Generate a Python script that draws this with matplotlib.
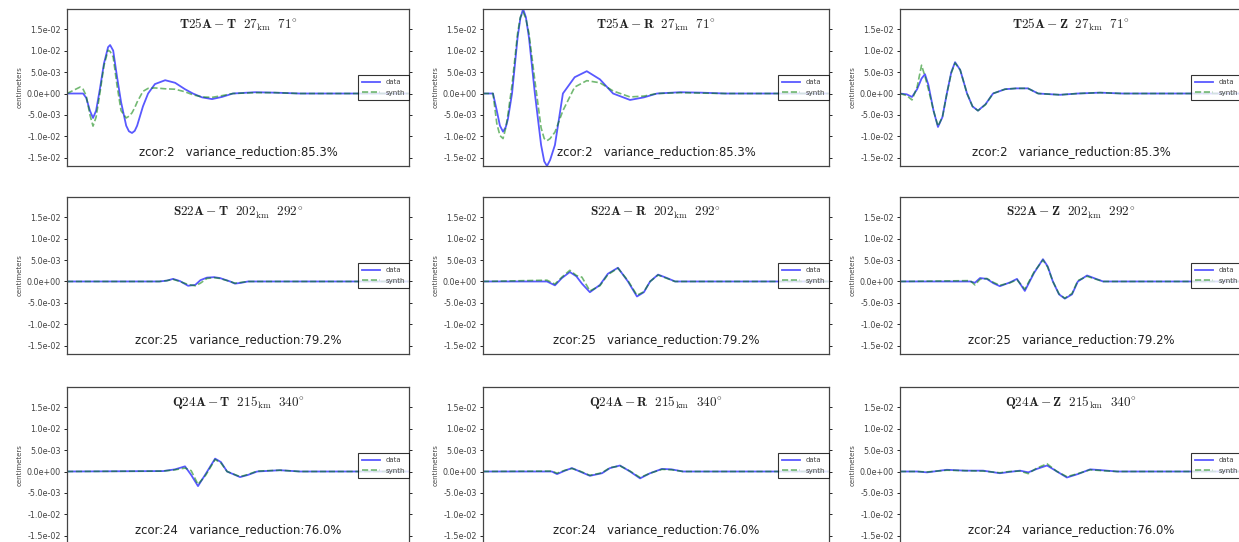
import matplotlib
matplotlib.use("Agg")
import matplotlib.pyplot as plt
from matplotlib.ticker import FormatStrFormatter

plt.rcParams["mathtext.fontset"] = "cm"

stations = ["T25A", "S22A", "Q24A"]
components = ["T", "R", "Z"]
distances = [27, 202, 215]  # km
azimuths = [71, 292, 340]  # degrees
zcors = [2, 25, 24]
var_reductions = [85.3, 79.2, 76.0]

# ---- T25A ----
t_T25A_T = [0, 3.8, 4.7, 5.6, 6.7, 7.6, 8.5, 9.6, 10.8, 12.0, 12.6, 13.5, 14.6, 15.8,
            17.3, 18.1, 19.0, 19.8, 20.5, 22.2, 23.7, 25.7, 28.7, 31.6, 34.5, 36.8,
            39.5, 42.4, 45.3, 48.5, 55.0, 60.8, 68.0, 100]
data_T25A_T = [0, 0, 0, -0.001, -0.004, -0.0057, -0.004, 0.001, 0.007, 0.0108, 0.0113,
               0.010, 0.004, -0.002, -0.0075, -0.0088, -0.0092, -0.0087, -0.0075,
               -0.003, 0.0, 0.0022, 0.0031, 0.0025, 0.0010, 0.0, -0.0009, -0.0013,
               -0.0008, 0.0, 0.0003, 0.0002, 0, 0]
synth_T25A_T = [0, 0.0015, 0.001, -0.0005, -0.005, -0.0076, -0.0055, 0.0, 0.0065,
                0.0101, 0.0098, 0.0085, 0.002, -0.004, -0.0057, -0.0053, -0.0045,
                -0.0033, -0.002, 0.0005, 0.0012, 0.0013, 0.0011, 0.0010, 0.0004,
                -0.0003, -0.0008, -0.0009, -0.0005, 0.0, 0.0002, 0.0002, 0, 0]

t_T25A_R = [0, 2.9, 4.0, 4.9, 5.8, 6.6, 7.2, 8.4, 10.0, 10.8, 11.6, 12.4, 13.3, 15.0,
            16.8, 17.7, 18.5, 19.4, 20.8, 23.1, 26.5, 30.0, 33.8, 37.6, 42.5, 46.5,
            50.3, 57.0, 63.0, 70.0, 100]
data_T25A_R = [0, 0, -0.004, -0.0075, -0.0089, -0.0078, -0.006, 0, 0.013, 0.0175,
               0.0197, 0.0178, 0.013, 0, -0.012, -0.0158, -0.0169, -0.0155, -0.012, 0,
               0.0038, 0.0052, 0.0033, 0, -0.0015, -0.0009, 0, 0.0003, 0.0002, 0, 0]
synth_T25A_R = [0, 0, -0.007, -0.0098, -0.0105, -0.008, -0.005, 0.002, 0.014, 0.0178,
                0.019, 0.0175, 0.014, 0.003, -0.008, -0.0105, -0.011, -0.0105, -0.009,
                -0.004, 0.0015, 0.0030, 0.0025, 0.0006, -0.0008, -0.0006, 0, 0.0002,
                0.0001, 0, 0]

t_T25A_Z = [0, 2.0, 3.5, 5.0, 6.3, 7.3, 8.3, 9.8, 11.1, 12.4, 13.7, 15.0, 16.1, 17.6,
            19.6, 21.2, 22.8, 25.0, 27.2, 30.7, 34.0, 37.4, 40.4, 46.8, 52.0, 58.5,
            65.0, 100]
data_T25A_Z = [0, -0.0002, -0.0008, 0.001, 0.0035, 0.0045, 0.002, -0.004, -0.0078,
               -0.0055, 0.0, 0.005, 0.0073, 0.0055, 0.0, -0.003, -0.0040, -0.0025, 0.0,
               0.001, 0.0012, 0.0012, 0.0, -0.0003, 0, 0.0002, 0, 0]
synth_T25A_Z = [0, -0.0005, -0.0015, 0.0015, 0.0066, 0.004, 0.001, -0.004, -0.0076,
                -0.0055, 0.0, 0.0048, 0.0071, 0.0055, 0.0, -0.003, -0.0040, -0.0026,
                0.0, 0.0010, 0.0012, 0.0012, 0.0, -0.0003, 0, 0.0002, 0, 0]

# ---- S22A ----
t_S22A_T = [0, 27.0, 29.2, 31.0, 33.0, 35.4, 37.5, 39.0, 40.9, 43.0, 44.7, 47.7, 49.1,
            51.0, 52.9, 100]
data_S22A_T = [0, 0, 0.0002, 0.0006, 0.0001, -0.001, -0.0008, 0.0003, 0.0009, 0.001,
               0.0008, 0.0, -0.0005, -0.0003, 0, 0]
synth_S22A_T = [0, 0, 0.0002, 0.0005, 0.0, -0.0007, -0.001, -0.0004, 0.0007, 0.0009,
                0.0007, 0.0, -0.0004, -0.0002, 0, 0]

t_S22A_R = [0, 18.5, 20.8, 22.8, 25.1, 27.0, 28.6, 30.9, 33.8, 36.1, 39.0, 41.9, 44.5,
            46.5, 48.3, 50.6, 53.2, 55.5, 100]
data_S22A_R = [0, 0, -0.0009, 0.0008, 0.0022, 0.0012, -0.0005, -0.0025, -0.0008, 0.0018,
               0.0032, 0.0, -0.0035, -0.0025, 0.0, 0.0016, 0.0008, 0, 0]
synth_S22A_R = [0, 0.0003, -0.0006, 0.001, 0.0026, 0.0014, 0.001, -0.0022, -0.001,
                0.0016, 0.0031, 0.0002, -0.0032, -0.0024, 0.0, 0.0015, 0.0007, 0, 0]

t_S22A_Z = [0, 20.5, 21.9, 23.4, 25.4, 27.3, 29.2, 32.2, 34.2, 36.5, 39.2, 41.8, 43.2,
            44.7, 46.5, 48.2, 50.3, 52.0, 54.7, 57.0, 59.4, 100]
data_S22A_Z = [0, 0, -0.0003, 0.0008, 0.0006, -0.0004, -0.0011, -0.0002, 0.0006,
               -0.0022, 0.002, 0.0052, 0.0035, 0.0, -0.003, -0.004, -0.003, 0.0, 0.0014,
               0.0007, 0, 0]
synth_S22A_Z = [0, 0.0002, -0.0008, 0.0005, 0.0007, -0.0002, -0.0009, -0.0003, 0.0004,
                -0.0018, 0.0022, 0.005, 0.0033, 0.0, -0.0029, -0.0039, -0.0028, 0.0002,
                0.0012, 0.0006, 0, 0]

# ---- Q24A ----
t_Q24A_T = [0, 28.1, 31.6, 34.5, 36.3, 38.3, 40.6, 43.3, 45.0, 46.8, 50.6, 52.9, 55.6,
            62.3, 68.1, 100]
data_Q24A_T = [0, 0.0001, 0.0005, 0.0012, -0.0008, -0.0034, -0.0005, 0.0030, 0.0022,
               0.0, -0.0013, -0.0008, 0.0, 0.0003, 0, 0]
synth_Q24A_T = [0, 0.0001, 0.0004, 0.0008, 0.0002, -0.0030, -0.0008, 0.0028, 0.0020,
                0.0, -0.0012, -0.0007, 0.0001, 0.0003, 0, 0]

t_Q24A_R = [0, 19.9, 21.4, 23.7, 25.7, 28.0, 30.9, 34.4, 36.7, 39.6, 42.5, 45.4, 48.3,
            51.7, 54.5, 57.8, 100]
data_Q24A_R = [0, 0, -0.0006, 0.0002, 0.0008, 0.0, -0.0010, -0.0004, 0.0008, 0.0014,
               0.0, -0.0016, -0.0004, 0.0006, 0.0005, 0, 0]
synth_Q24A_R = [0, 0.0001, -0.0004, 0.0003, 0.0007, 0.0001, -0.0009, -0.0003, 0.0009,
                0.0013, 0.0001, -0.0014, -0.0004, 0.0005, 0.0004, 0, 0]

t_Q24A_Z = [0, 5.0, 7.9, 13.7, 19.0, 24.3, 29.2, 32.0, 35.1, 37.5, 40.0, 43.0, 45.9,
            48.8, 52.0, 55.6, 59.0, 63.5, 100]
data_Q24A_Z = [0, 0, -0.0002, 0.0004, 0.0002, 0.0002, -0.0004, -0.0001, 0.0002, -0.0002,
               0.0006, 0.0014, 0.0, -0.0014, -0.0006, 0.0005, 0.0003, 0, 0]
synth_Q24A_Z = [0, 0, -0.0001, 0.0003, 0.0002, 0.0001, -0.0003, 0.0, 0.0001, -0.0005,
                0.0008, 0.0018, 0.0, -0.0012, -0.0005, 0.0004, 0.0002, 0, 0]

traces = [
    [(t_T25A_T, data_T25A_T, synth_T25A_T), (t_T25A_R, data_T25A_R, synth_T25A_R),
     (t_T25A_Z, data_T25A_Z, synth_T25A_Z)],
    [(t_S22A_T, data_S22A_T, synth_S22A_T), (t_S22A_R, data_S22A_R, synth_S22A_R),
     (t_S22A_Z, data_S22A_Z, synth_S22A_Z)],
    [(t_Q24A_T, data_Q24A_T, synth_Q24A_T), (t_Q24A_R, data_Q24A_R, synth_Q24A_R),
     (t_Q24A_Z, data_Q24A_Z, synth_Q24A_Z)],
]

# common amplitude scale for every panel
ymin = min(min(d) for row in traces for _, d, _ in row)
ymax = max(max(d) for row in traces for _, d, _ in row)

fig = plt.figure(figsize=(12.39, 5.42), dpi=100)

lefts = [0.0541, 0.3898, 0.7264]
widths = [0.276, 0.2793, 0.276]
bottoms = [0.6937, 0.3469, -0.0037]
height = 0.2897

for i, sta in enumerate(stations):
    for j, comp in enumerate(components):
        t, d, s = traces[i][j]
        ax = fig.add_axes([lefts[j], bottoms[i], widths[j], height])
        ax.plot(t, d, color="b", lw=1.3, alpha=0.65, label="data")
        ax.plot(t, s, color="g", lw=1.2, ls="--", alpha=0.55, label="synth")
        ax.set_xlim(0, 100)
        ax.set_ylim(ymin, ymax)
        ax.set_xticks([])
        ax.set_yticks([-0.015, -0.01, -0.005, 0, 0.005, 0.01, 0.015])
        ax.yaxis.set_major_formatter(FormatStrFormatter("%.1e"))
        ax.tick_params(axis="y", which="both", direction="out", length=2.5,
                       width=0.6, labelsize=5.8, labelcolor="#444444",
                       right=True, pad=2)
        ax.set_ylabel("centimeters", fontsize=5, labelpad=3, color="#444444")
        for sp in ax.spines.values():
            sp.set_linewidth(0.9)
            sp.set_color("#444444")
        title = (r"$\mathbf{%s-%s}\ \ %d_{\mathrm{km}}\ \ %d^{\circ}$"
                 % (sta, comp, distances[i], azimuths[i]))
        ax.text(0.5, 0.9, title, transform=ax.transAxes, ha="center",
                va="center", fontsize=9.5, color="#222222")
        ax.text(0.5, 0.09,
                "zcor:%d   variance_reduction:%.1f%%" % (zcors[i], var_reductions[i]),
                transform=ax.transAxes, ha="center", va="center", fontsize=8.4,
                color="#222222")
        leg = ax.legend(loc="center right", fontsize=5, fancybox=False,
                        borderaxespad=0, handlelength=2.5, borderpad=0.6,
                        labelspacing=0.6)
        leg.get_frame().set_edgecolor("black")
        leg.get_frame().set_linewidth(0.8)
        for txt in leg.get_texts():
            txt.set_color("#444444")

fig.savefig("out.png", dpi=100)
